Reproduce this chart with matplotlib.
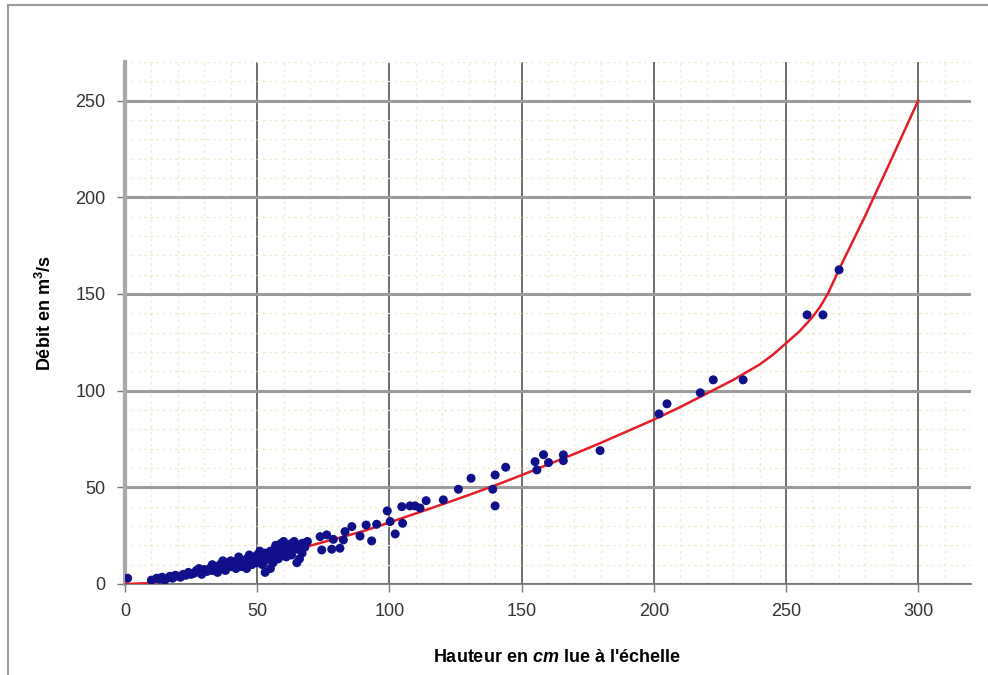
import matplotlib
matplotlib.use("Agg")
import matplotlib.pyplot as plt
from matplotlib.patches import Rectangle
from matplotlib.ticker import MultipleLocator

plt.rcParams['font.family'] = ['Liberation Sans', 'DejaVu Sans']
plt.rcParams['mathtext.fontset'] = 'custom'
plt.rcParams['mathtext.rm'] = 'Liberation Sans:bold'
plt.rcParams['mathtext.it'] = 'Liberation Sans:bold:italic'
plt.rcParams['mathtext.bf'] = 'Liberation Sans:bold'

# Observed gaugings (height in cm, discharge in m3/s)
obs_x = [1, 10, 12, 13, 14, 15, 16, 17, 18, 19, 20, 21, 22, 23, 24, 25, 26, 27, 28, 29,
         30, 31, 32, 33, 34, 35, 35, 36, 37, 38, 38, 39, 40, 40, 41, 42, 42, 43, 44, 44,
         45, 46, 46, 47, 48, 48, 49, 50, 50, 51, 52, 52, 53, 53, 53, 54, 55, 55, 55, 56,
         56, 57, 57, 58, 58, 59, 59, 60, 60, 61, 61, 62, 62, 63, 63, 64, 64, 65, 65, 66,
         66, 67, 67, 68, 69, 28, 33, 37, 43, 47, 51, 57, 61,
         67.5, 73.8, 74.4, 76.3, 78.2, 78.8, 81.3, 82.6, 83.2, 85.8, 88.9, 91.2, 93.3, 95.2,
         99.2, 100.3, 102.2, 104.7, 105.0, 107.8, 109.7, 111.6, 113.9, 120.4, 126.1, 130.9,
         139.1, 140.0, 140.0, 144.0, 155.1, 155.8, 158.3, 160.2, 165.8, 165.8, 179.7,
         202.0, 205.0, 217.6, 222.5, 233.8, 258.0, 264.0, 270.1]
obs_y = [3, 2, 3, 2.5, 3.5, 2, 3, 4, 3, 4.5, 4, 3.5, 5, 4.5, 6, 5, 5.5, 7, 6, 5,
         7.5, 6.5, 8, 7, 9, 8, 6, 10, 8.5, 9.5, 7, 11, 9, 12, 10, 8, 11.5, 10.5, 12, 9,
         11, 13, 8, 12, 10, 14, 12.5, 11, 15, 13, 14, 10, 16, 12, 6, 13.5, 15, 17, 8, 11,
         14, 16, 19, 15, 13, 17, 21, 16, 22, 14, 18, 20, 17, 21, 15, 19, 22, 18, 11, 20,
         13, 21, 16, 19, 22, 8, 10, 12, 14, 15, 17, 20, 20,
         21.1, 24.5, 17.6, 25.4, 18.0, 23.1, 18.5, 22.8, 27.1, 29.7, 24.8, 30.5, 22.3, 30.9,
         37.8, 32.3, 25.9, 40.0, 31.4, 40.4, 40.4, 39.3, 43.1, 43.5, 49.0, 54.7,
         49.0, 56.4, 40.4, 60.4, 63.3, 59.0, 66.9, 62.8, 66.8, 63.8, 69.0,
         88.0, 93.2, 98.9, 105.6, 105.6, 139.2, 139.2, 162.5]

# Rating curve
curve_x = [0, 10, 20, 30, 40, 50, 60, 70, 80, 90, 100, 110, 120, 130, 140, 150, 160,
           170, 180, 190, 200, 210, 220, 230, 240, 245, 250, 255, 260, 263, 266, 270,
           275, 280, 290, 300]
curve_y = [0, 0.5, 3.5, 6.8, 10, 13, 16.3, 19.8, 23.5, 27.3, 31.8, 36.5, 41.2, 46, 51,
           56.3, 61.8, 67.3, 73, 79, 85, 91.5, 98.5, 105.5, 113.5, 118.5, 124.5, 130.5,
           138, 143.5, 150.5, 162.5, 176.5, 190.5, 220, 250]

x_ticks = [0, 50, 100, 150, 200, 250, 300]
y_ticks = [0, 50, 100, 150, 200, 250]

fig = plt.figure(figsize=(9.88, 6.75), dpi=100)
fig.patch.set_facecolor('white')
fig.patches.append(Rectangle((8/988, -0.05), 1.1, 1.05 - 5/675, transform=fig.transFigure,
                             fill=False, edgecolor='#9a9a9a', linewidth=1.5, zorder=0))

ax = fig.add_axes([125/988, (675-584)/675, 846/988, (584-62)/675])
ax.set_xlim(0, 320)
ax.set_ylim(0, 270)
ax.xaxis.set_minor_locator(MultipleLocator(10))
ax.yaxis.set_minor_locator(MultipleLocator(10))
ax.set_xticks(x_ticks)
ax.set_yticks(y_ticks)

ax.grid(which='minor', axis='both', color='#f3e8cc', linestyle=(0, (2, 3)), linewidth=0.9, zorder=0)
ax.grid(which='major', axis='y', color='#9c9c9c', linewidth=2.2, zorder=1)
ax.grid(which='major', axis='x', color='#6e6e6e', linewidth=1.4, zorder=1)

for s in ['top', 'right']:
    ax.spines[s].set_visible(False)
ax.spines['left'].set_color('#a8a8a8')
ax.spines['left'].set_linewidth(3)
ax.spines['bottom'].set_color('#6e6e6e')
ax.spines['bottom'].set_linewidth(1.2)

ax.tick_params(which='major', direction='out', length=6, width=1, color='#777777',
               labelsize=13, labelcolor='#333333', pad=8)
ax.tick_params(which='minor', length=0)

ax.plot(curve_x, curve_y, color='#e41e26', linewidth=1.8, zorder=3)
ax.scatter(obs_x, obs_y, s=42, color='#10108a', edgecolors='none', zorder=4)

ax.set_xlabel("Hauteur en $cm$ lue à l'échelle", fontsize=13, fontweight='bold')
ax.xaxis.set_label_coords(0.51, -0.125)
ax.set_ylabel("Débit en m$^{3}$/s", fontsize=13, fontweight='bold')
ax.yaxis.set_label_coords(-0.083, 0.52)

fig.savefig('out.png', dpi=100, facecolor='white')
